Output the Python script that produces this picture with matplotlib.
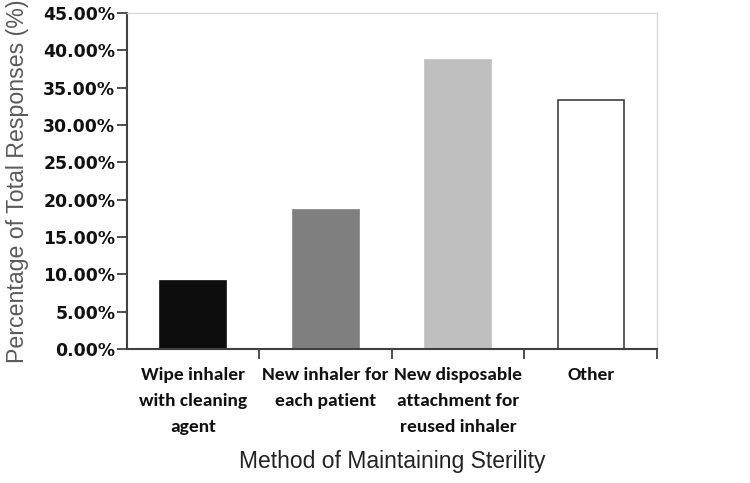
import matplotlib.pyplot as plt
from matplotlib import font_manager
from matplotlib.ticker import FuncFormatter, FixedLocator, NullFormatter

categories = ['Wipe inhaler\nwith cleaning\nagent', 'New inhaler for\neach patient',
              'New disposable\nattachment for\nreused inhaler', 'Other']
percentages = [9.1, 18.6, 38.7, 33.3]
bar_colors = ['#0d0d0d', '#7f7f7f', '#bfbfbf', 'white']
edge_colors = ['#0d0d0d', '#7f7f7f', '#bfbfbf', '#404040']

installed = {f.name for f in font_manager.fontManager.ttflist}
cat_font = 'Carlito' if 'Carlito' in installed else 'Lato'
cat_size = 14 if cat_font == 'Carlito' else 12.0

fig = plt.figure(figsize=(7.5, 4.83), dpi=100)
ax = fig.add_axes([0.1693, 0.2774, 0.7067, 0.6956])

x = range(len(categories))
ax.bar(x, percentages, width=0.5, color=bar_colors, edgecolor=edge_colors, linewidth=1.2)

ax.set_xlim(-0.5, len(categories) - 0.5)
ax.set_ylim(0, 45)
ax.set_yticks(range(0, 50, 5))
ax.yaxis.set_major_formatter(FuncFormatter(lambda v, p: f'{v:.2f}%'))
for lbl in ax.get_yticklabels():
    lbl.set_fontfamily('DejaVu Sans')
    lbl.set_fontweight('bold')
    lbl.set_fontsize(12.4)
    lbl.set_color('#111111')

# category labels centred, ticks at boundaries
ax.set_xticks(list(x))
ax.set_xticklabels(categories)
for lbl in ax.get_xticklabels():
    lbl.set_fontfamily(cat_font)
    lbl.set_fontweight('bold')
    lbl.set_fontsize(cat_size)
    lbl.set_color('#111111')
    lbl.set_linespacing(1.75)
ax.tick_params(axis='x', length=0, pad=13)
ax.xaxis.set_minor_locator(FixedLocator([0.5, 1.5, 2.5, 3.5]))
ax.xaxis.set_minor_formatter(NullFormatter())
ax.tick_params(axis='x', which='minor', length=7, width=1.3, color='#404040', direction='out')
ax.tick_params(axis='y', length=7, width=1.3, color='#404040', direction='out', pad=1.5)

for side in ['left', 'bottom']:
    ax.spines[side].set_color('#404040')
    ax.spines[side].set_linewidth(1.5)
for side in ['top', 'right']:
    ax.spines[side].set_color('#d9d9d9')
    ax.spines[side].set_linewidth(1.0)

ax.set_ylabel('Percentage of Total Responses (%)', fontfamily='Liberation Sans',
              fontsize=16.7, color='#5a5a5a')
ax.yaxis.set_label_coords(-0.206, 0.5)
ax.set_xlabel('Method of Maintaining Sterility', fontfamily='Liberation Sans',
              fontsize=16.5, color='#222222')
ax.xaxis.set_label_coords(0.5, -0.336)
ax.xaxis.label.set_va('center')
ax.yaxis.label.set_va('center')

fig.savefig('out.png', dpi=100)
